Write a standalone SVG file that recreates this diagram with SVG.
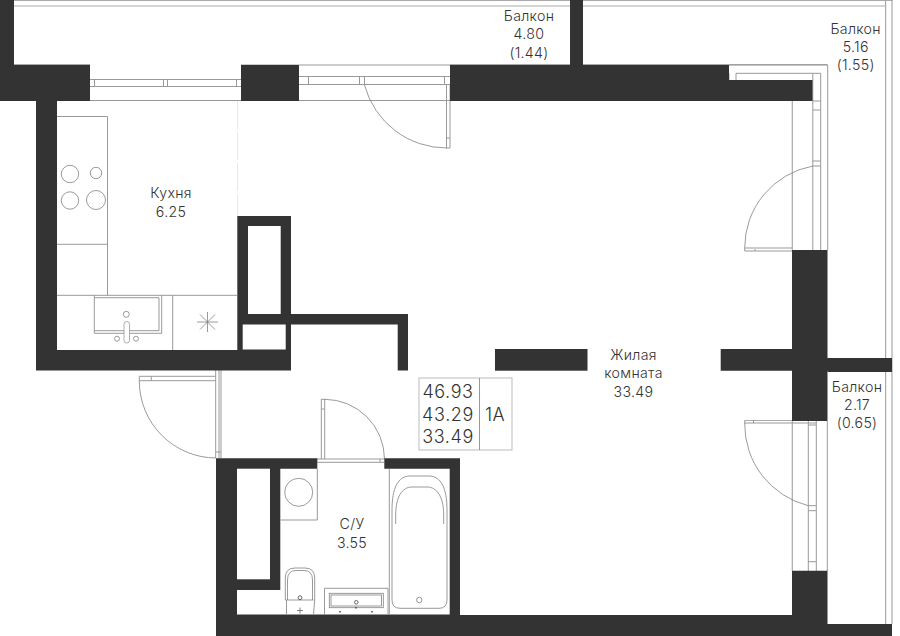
<svg xmlns="http://www.w3.org/2000/svg" width="900" height="636" viewBox="0 0 900 636">
<style>
.w{fill:#333}
.l{fill:none;stroke:#808080;stroke-width:.8}
.g{fill:none;stroke:#999;stroke-width:1}
.b{fill:none;stroke:#aaa;stroke-width:1.2}
text{font-family:"Inter","Liberation Sans",sans-serif;font-size:14.200px;font-weight:300;fill:#333;text-anchor:middle;letter-spacing:.3px}
.n{font-size:18px;letter-spacing:.6px}
.s{font-size:18px}
</style>
<rect width="900" height="636" fill="#fff"/>
<g id="balcony-lines">
<path class="b" d="M14 .5H893M14 6H886M885.600 0V624M892 0V624M14 64.700H90M450 64.700H570M583 64.700H827.500"/>
</g>
<g id="windows">
<path class="g" d="M90 79.500H241M90 86.500H241M90 100.500H241M94.500 79.500V86.500M163.500 79.500V86.500M167.500 79.500V86.500M236.500 79.500V86.500"/>
<path class="g" d="M241 65H450M299 76.500H450M299 84.500H450M299 100.500H450M308.500 76.500V84.500M359.500 76.500V84.500M364.500 76.500V84.500M444.500 76.500V84.500"/>
<path class="g" d="M446.500 85V148M450 85V148M446.500 138H450M446.500 148H450"/>
<path class="l" d="M364.500 85A85 85 0 0 0 447 148"/>
<path class="g" d="M729 65H827.700V250M736 73.300H820.700V250M729 80V73.300M736 73.300V80M812.800 73.300V250M812.800 101H820.700M812.800 110H820.700M812.800 161H820.700M812.800 166H820.700"/>
<path class="b" d="M792.300 101V250"/>
<path class="l" d="M813 166A83 83 0 0 0 744.700 248"/>
<path class="g" d="M744.700 248V251H820.700M744.700 248H792M755 249V251"/>
<path class="b" d="M792.300 421V571M745 420.500H816"/>
<path class="g" d="M808.300 421V571M816.300 421V571M827.300 421V571M808.300 425H816.300M808.300 505.700H816.300M808.300 510.700H816.300M808.300 561.700H816.300M744.700 420.300V423H816M753.500 420.300V423"/>
<path class="l" d="M744.700 423A84 84 0 0 0 808.300 505.700"/>
</g>
<g id="entrance-door">
<path class="g" d="M139.300 376.300H215.700M139.300 380.700H215.700M139.300 376.300V381M151.300 376.300V380.700M215.700 370V458M219 370V458M221 370V458M215.700 452H221"/>
<path class="l" d="M139.300 381A77 77 0 0 0 216 458"/>
</g>
<g id="bath-door">
<path class="g" d="M317 459H384M317 462.300H384M321.300 399V459M324.700 399V459M321.300 399.300H325M321.300 409H324.700M380 459V462.300"/>
<path class="l" d="M324.700 399.300A60 60 0 0 1 384.500 459"/>
</g>
<g id="walls">
<path class="w" d="M0 0H14V65H90V101H57V350H237.300V216H291V314H408V370.500H397.700V324.400H291V370.500H36V101H0Z"/>
<path d="M248 226H280.700V314H248ZM242.700 324.400H285.700V349.500H242.700Z" fill="#fff"/>
<rect class="w" x="241" y="65" width="58" height="36"/>
<path class="w" d="M450 65H570V0H583V65H729V80H812.500V101H450Z"/>
<rect class="w" x="792" y="250" width="35.500" height="171"/>
<path class="w" d="M720.700 349H792V358H892V372H827.500V370.700H720.700Z"/>
<rect class="w" x="495" y="349" width="92.500" height="21.700"/>
<path class="w" d="M216 458.300H317.300V468.700H280.300V590H237V614.500H449.700V468.700H389.300L384.300 468.700V458.300H460V615H792V570.700H827.500V624H892V636H216Z"/>
<rect x="237" y="468.700" width="33" height="110.600" fill="#fff"/>
</g>
<g id="kitchen">
<line x1="237.500" y1="101" x2="237.500" y2="216" stroke="#e8e8e8" stroke-width="1" stroke-dasharray="28 3"/>
<path class="g" d="M57 116.500H107.500V295.300M57 244.300H107.500M57 295.300H237M172.700 295.300V350"/>
<circle class="l" cx="70" cy="174" r="8.700"/>
<circle class="l" cx="96" cy="173" r="5.700"/>
<circle class="l" cx="70" cy="200.500" r="8.700"/>
<circle class="l" cx="96" cy="200" r="9.500"/>
<path class="g" d="M94.300 295.300V333.300H161.700V295.300M94.300 297.700H159V330.700H94.300"/>
<circle class="l" cx="126.300" cy="314.300" r="3"/>
<rect x="124" y="321.500" width="5.500" height="21.500" rx="2.700" fill="#fff" stroke="#999" stroke-width=".8"/>
<circle class="l" cx="117" cy="338.700" r="2.500"/>
<circle class="l" cx="136" cy="338.700" r="2.500"/>
<path class="l" d="M207.500 312V332M197 322H218M200 314.500L215 329.500M215 314.500L200 329.500"/>
</g>
<g id="bathroom">
<path class="g" d="M280.300 520H317.300V468.700M389.300 468.700V614.500"/>
<circle class="l" cx="298.700" cy="492.300" r="14"/>
<path class="g" d="M286.500 614.500V600H285.300V578Q285.300 568 295 568H305Q314.700 568 314.700 578V600L313.500 614.500M286.500 600H313.500"/>
<path class="l" d="M287.500 600V580Q287.500 570.500 296 570.500H304Q312.500 570.500 312.500 580V600"/>
<circle cx="300" cy="597.700" r="1.900" fill="none" stroke="#555" stroke-width=".9"/>
<path d="M297 610.500H303M300 607.500V613.500" stroke="#666" stroke-width=".8"/>
<path class="g" d="M324.500 614.500V588.300H388V614.500"/>
<rect class="l" x="329.300" y="593.300" width="54" height="14.400"/>
<rect class="l" x="331" y="595" width="50.500" height="11"/>
<circle cx="356.300" cy="602.300" r="1.800" fill="none" stroke="#555" stroke-width=".9"/>
<circle cx="340" cy="611.700" r=".9" fill="#555"/>
<circle cx="356" cy="607.700" r=".9" fill="#555"/>
<circle cx="372" cy="611.700" r=".9" fill="#555"/>
<path class="g" d="M392 600V510C392 488 398 476 410 476H429C441 476 447 488 447 510V600Q447 608.300 439 608.300H400Q392 608.300 392 600Z"/>
<path class="l" d="M395.700 524V515C395.700 497 402 487 412 487H427C437 487 443.700 497 443.700 515V524"/>
<circle class="l" cx="419.300" cy="600" r="2.700"/>
</g>
<g id="info">
<rect x="419" y="378" width="93" height="72" fill="#fff" stroke="#bbb" stroke-width="1"/>
<line x1="479.500" y1="378" x2="479.500" y2="450" stroke="#999" stroke-width="1"/>
<text class="n" x="448" y="398">46.93</text>
<text class="n" x="448" y="421">43.29</text>
<text class="n" x="448" y="443">33.49</text>
<text class="s" x="495" y="421">1A</text>
</g>
<g id="labels">
<text x="529" y="21">Балкон</text><text x="529" y="39">4.80</text><text x="529" y="58">(1.44)</text>
<text x="855.700" y="34">Балкон</text><text x="855.700" y="52">5.16</text><text x="855.700" y="70">(1.55)</text>
<text x="857" y="392">Балкон</text><text x="857" y="410">2.17</text><text x="857" y="428">(0.65)</text>
<text x="171" y="198">Кухня</text><text x="171" y="217">6.25</text>
<text x="633.500" y="360">Жилая</text><text x="633.500" y="378">комната</text><text x="633.500" y="397">33.49</text>
<text x="352" y="529">С/У</text><text x="352" y="548">3.55</text>
</g>
</svg>
